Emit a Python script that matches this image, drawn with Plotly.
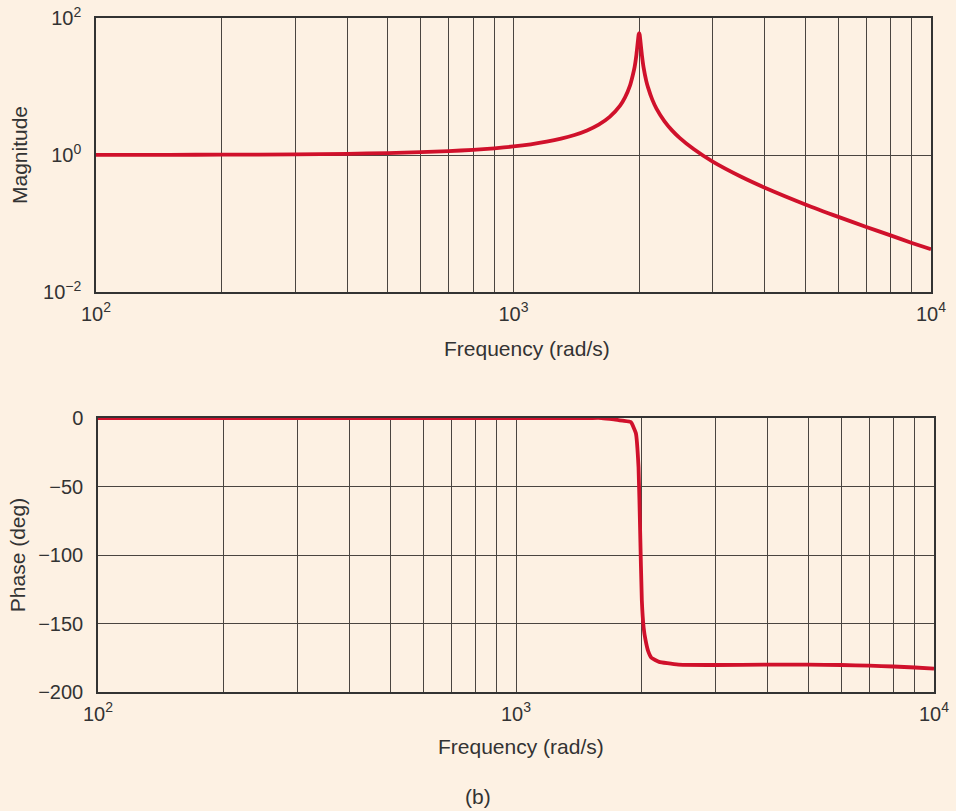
import plotly.graph_objects as go

# ---- data ----
freq_mag = [100, 150, 200, 300, 400, 500, 600, 700, 800, 900, 1000, 1100, 1200, 1300,
            1400, 1500, 1600, 1700, 1800, 1850, 1900, 1930, 1950, 1970, 1985, 1995,
            2000, 2005, 2015, 2030, 2050, 2080, 2100, 2150, 2200, 2300, 2400, 2500,
            2700, 3000, 3500, 4000, 5000, 6000, 7000, 8000, 9000, 10000]
magnitude = [1.0025, 1.0057, 1.010, 1.023, 1.042, 1.067, 1.099, 1.140, 1.190, 1.254,
             1.333, 1.434, 1.563, 1.732, 1.961, 2.286, 2.778, 3.60, 5.26, 6.92, 10.2,
             14.5, 19.2, 29.4, 45.0, 57.8, 60.2, 57.5, 44.4, 28.9, 18.7, 12.0, 9.72,
             6.43, 4.76, 3.10, 2.27, 1.78, 1.22, 0.80, 0.485, 0.333, 0.190, 0.125,
             0.089, 0.067, 0.052, 0.042]

freq_phase = [100, 200, 500, 1000, 1500, 1600, 1714, 1800, 1882, 1935, 1964, 1982,
              2000, 2020, 2041, 2070, 2108, 2200, 2300, 2448, 3000, 4000, 5000, 6000,
              7000, 8000, 9000, 10000]
phase = [0, 0, 0, 0, 0, 0, -1, -2, -3, -11, -36, -84, -133, -153, -162, -170, -175,
         -178, -179, -180, -180.3, -180, -180, -180.3, -180.8, -181.4, -182.1, -183]

x_major_vals = [100, 1000, 10000]
x_major_text = ["10<sup>2</sup>", "10<sup>3</sup>", "10<sup>4</sup>"]
x_minor_vals = [200, 300, 400, 500, 600, 700, 800, 900,
                2000, 3000, 4000, 5000, 6000, 7000, 8000, 9000]
mag_tick_vals = [0.01, 1, 100]
mag_tick_text = ["10<sup>\u22122</sup>", "10<sup>0</sup>", "10<sup>2</sup>"]
phase_tick_vals = [0, -50, -100, -150, -200]
phase_tick_text = ["0", "\u221250", "\u2212100", "\u2212150", "\u2212200"]

BG = "#FDF1E3"
RED = "#D0112B"
INK = "#333333"
GRID = "#4a4540"
FONT = "Liberation Sans, Arial, sans-serif"
TICK = 20
TITLE = 21

W, H = 956, 811

fig = go.Figure()
fig.add_trace(go.Scatter(x=freq_mag, y=magnitude, mode="lines",
                         line=dict(color=RED, width=3.8, shape="spline", smoothing=0.6),
                         xaxis="x", yaxis="y", showlegend=False))
fig.add_trace(go.Scatter(x=freq_phase, y=phase, mode="lines",
                         line=dict(color=RED, width=3.8, shape="spline", smoothing=0.4),
                         xaxis="x2", yaxis="y2", showlegend=False))

def px_dom_x(a, b):
    return [a / W, b / W]

def px_dom_y(top, bottom):
    return [(H - bottom) / H, (H - top) / H]

common_x = dict(type="log", range=[2, 4],
                tickvals=x_major_vals, ticktext=x_major_text,
                showgrid=True, gridcolor=GRID, gridwidth=1,
                minor=dict(tickvals=x_minor_vals, showgrid=True, gridcolor=GRID,
                           gridwidth=1, ticks=""),
                showline=True, linecolor=INK, linewidth=1.5, mirror=True,
                ticks="", ticklabelstandoff=3,
                tickfont=dict(family=FONT, size=TICK, color=INK),
                zeroline=False, automargin=False)

common_y = dict(showgrid=True, gridcolor=GRID, gridwidth=1,
                showline=True, linecolor=INK, linewidth=1.5, mirror=True,
                ticks="", ticklabelstandoff=9, zeroline=False, automargin=False,
                tickfont=dict(family=FONT, size=TICK, color=INK))

def label(text, cx, cy):
    return dict(text=text, x=cx / W, y=(H - cy) / H, xref="paper", yref="paper",
                xanchor="center", yanchor="middle", showarrow=False,
                font=dict(family=FONT, size=TITLE, color=INK))

fig.update_layout(
    width=W, height=H,
    paper_bgcolor=BG, plot_bgcolor=BG,
    margin=dict(l=0, r=0, t=0, b=0),
    font=dict(family=FONT, color=INK),
    hovermode=False,
    xaxis=dict(common_x, domain=px_dom_x(96, 931), anchor="y"),
    yaxis=dict(common_y, type="log", range=[-2, 2], domain=px_dom_y(18, 292),
               tickvals=mag_tick_vals, ticktext=mag_tick_text,
               title=dict(text="Magnitude", font=dict(family=FONT, size=TITLE, color=INK),
                          standoff=10),
               anchor="x"),
    xaxis2=dict(common_x, domain=px_dom_x(98, 934), anchor="y2"),
    yaxis2=dict(common_y, range=[-200, 0], domain=px_dom_y(418, 692),
                tickvals=phase_tick_vals, ticktext=phase_tick_text,
                title=dict(text="Phase (deg)", font=dict(family=FONT, size=TITLE, color=INK),
                           standoff=7),
                anchor="x2"),
    annotations=[label("Frequency (rad/s)", 527, 348),
                 label("Frequency (rad/s)", 521, 746),
                 label("(b)", 478, 796)],
)

fig.write_html("out.html",
               config={"displayModeBar": False},
               post_script="document.body.style.margin='0';"
                           "document.body.style.background='" + BG + "';"
                           "document.body.style.overflow='hidden';")
